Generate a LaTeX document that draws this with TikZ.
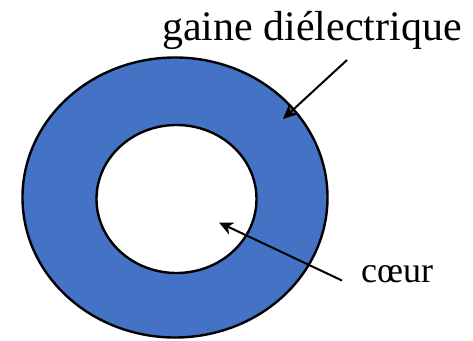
\documentclass[tikz,border=0pt]{standalone}
\usepackage{fontspec}
\setmainfont{Liberation Serif}
\usetikzlibrary{arrows.meta}
\definecolor{gaineblue}{HTML}{4472C4}
\tikzset{
  ring/.style={draw=black, line width=2.4pt},
  pointer/.style={draw=black, line width=2pt, -{Stealth[length=14pt,width=13pt,inset=4pt]}},
  label/.style={inner sep=0pt}
}
\begin{document}
\begin{tikzpicture}[x=1pt,y=-1pt]
\useasboundingbox (0,0) rectangle (473,340);
\path[ring, fill=gaineblue] (175,197.5) ellipse [x radius=152.5, y radius=140];
\path[ring, fill=white] (176.5,199) ellipse [x radius=80, y radius=74];
\node[label, anchor=base west, font=\fontsize{42}{48}\selectfont] (gaine) at (162,40) {gaine diélectrique};
\node[label, anchor=base west, font=\fontsize{36}{42}\selectfont] (coeur) at (361,282) {cœur};
\coordinate (g0) at (347,60);
\coordinate (g1) at (283,119);
\coordinate (c0) at (342,280.5);
\coordinate (c1) at (219,222.5);
\draw[pointer] (g0) -- (g1);
\draw[pointer] (c0) -- (c1);
\end{tikzpicture}
\end{document}
